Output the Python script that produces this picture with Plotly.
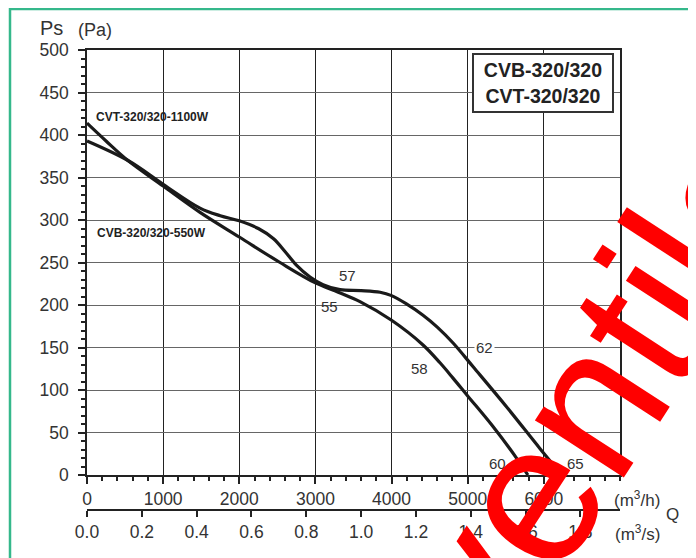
import plotly.graph_objects as go

# ---------------- data ----------------
# CVT-320/320-1100W (starts at ~414 Pa)
q_1100 = [0, 250, 538, 1000, 1484, 2000, 2535, 3000, 3300, 3585, 4000, 4413, 4636, 4807, 5000, 5332, 5648, 5790]
ps_1100 = [414, 393, 370, 340, 309, 280, 250, 226, 215, 204, 182, 153, 132, 114, 93, 57, 19, 0]

# CVB-320/320-550W (starts at ~393 Pa)
q_550 = [0, 538, 1000, 1484, 1750, 2000, 2250, 2450, 2600, 2750, 2929, 3100, 3323, 3600, 3850,
         4000, 4200, 4413, 4600, 4811, 5074, 5512, 5950, 6236]
ps_550 = [393, 370, 342, 314, 305, 299, 290, 278, 263, 247, 233, 224, 218, 217, 215,
          211, 201, 188, 174, 155, 127, 80, 31, 0]

# sound level labels (dB)
db_labels = ["55", "57", "58", "62", "60", "65"]
db_q = [3191, 3415, 4373, 5214, 5385, 6409]
db_ps = [198, 235, 125, 150, 13, 14]

x_ticks_m3h = [0, 1000, 2000, 3000, 4000, 5000, 6000]
x_ticks_m3s = [0.0, 0.2, 0.4, 0.6, 0.8, 1.0, 1.2, 1.4, 1.6, 1.8]
y_ticks = [0, 50, 100, 150, 200, 250, 300, 350, 400, 450, 500]
M3H_PER_M3S = 3600

# ---------------- geometry helpers (reference pixel -> paper) ----------------
OFF = 8                      # page body margin
W, H = 696 - OFF, 558 - OFF
L, R, T, B = 87, 620, 50, 510   # plot frame in reference pixels
def px(x):
    return (x - L) / (R - L)
def py(y):
    return (B - y) / (B - T)

FONT = "Liberation Sans, Arial, sans-serif"
TXT = "#333333"
LINE = "#1a1a1a"

fig = go.Figure()
fig.add_trace(go.Scatter(x=q_1100, y=ps_1100, mode="lines",
                         line=dict(color=LINE, width=3.2, shape="spline", smoothing=1.0),
                         showlegend=False, hoverinfo="skip"))
fig.add_trace(go.Scatter(x=q_550, y=ps_550, mode="lines",
                         line=dict(color=LINE, width=3.2, shape="spline", smoothing=1.0),
                         showlegend=False, hoverinfo="skip"))
# invisible trace to activate the m3/s axis
fig.add_trace(go.Scatter(x=[q / M3H_PER_M3S for q in q_1100], y=ps_1100, xaxis="x2",
                         mode="lines", opacity=0, showlegend=False, hoverinfo="skip"))

def ann(x, y, text, size, color=TXT, **kw):
    d = dict(x=x, y=y, xref="paper", yref="paper", text=text, showarrow=False,
             xanchor="center", yanchor="middle",
             font=dict(family=FONT, size=size, color=color))
    d.update(kw)
    return d

annotations = []
for lab, q, p in zip(db_labels, db_q, db_ps):
    d = dict(x=q, y=p, xref="x", yref="y", text=lab, showarrow=False,
             xanchor="center", yanchor="middle",
             font=dict(family=FONT, size=15, color=TXT))
    if lab == "62":
        d["bgcolor"] = "white"
    annotations.append(d)

annotations += [
    ann(px(543), py(83), "<b>CVB-320/320</b><br><b>CVT-320/320</b>", 19.5, "#222",
        bordercolor="#333", borderwidth=2, borderpad=3, bgcolor="white", width=132, height=50),
    ann(px(152.5), py(117), "<b>CVT-320/320-1100W</b>", 12, "#222"),
    ann(px(151), py(233), "<b>CVB-320/320-550W</b>", 12, "#222"),
    ann(px(51), py(28), "Ps", 20),
    ann(px(94.5), py(30), "(Pa)", 18),
    ann(px(637), py(499), "(m<sup>3</sup>/h)", 17),
    ann(px(672), py(514), "Q", 17),
    ann(px(637), py(533), "(m<sup>3</sup>/s)", 17),
    ann(px(600), py(386), "ventila", 200, "#ff0000", textangle=-57),
]

fig.update_layout(
    width=W, height=H,
    margin=dict(l=L - OFF, r=W - (R - OFF), t=T - OFF, b=H - (B - OFF), pad=0),
    paper_bgcolor="white", plot_bgcolor="white",
    showlegend=False,
    font=dict(family=FONT, size=17, color=TXT),
    xaxis=dict(range=[0, 7000], tickvals=x_ticks_m3h, ticktext=[str(v) for v in x_ticks_m3h],
               showgrid=True, gridcolor="#222", gridwidth=1,
               showline=True, linecolor="#222", linewidth=1.5, mirror=True,
               ticks="outside", ticklen=7, tickcolor="#222", tickwidth=1.5,
               minor=dict(dtick=200, tick0=0, ticks="outside", ticklen=4, tickcolor="#222",
                          showgrid=False),
               zeroline=False, anchor="y",
               tickfont=dict(family=FONT, size=17.5, color=TXT)),
    xaxis2=dict(range=[0, 7000 / M3H_PER_M3S], overlaying="x", anchor="free", position=0,
                side="bottom", tickvals=x_ticks_m3s, ticktext=[f"{v:.1f}" for v in x_ticks_m3s],
                showgrid=False, showline=True, linecolor="#222", linewidth=1.5,
                ticks="outside", ticklen=6, tickcolor="#222", tickwidth=1.5, zeroline=False,
                tickfont=dict(family=FONT, size=17.5, color=TXT)),
    yaxis=dict(range=[0, 500], domain=[py(475), 1], tickvals=y_ticks,
               showgrid=True, gridcolor="#666", gridwidth=1,
               showline=True, linecolor="#222", linewidth=1.5, mirror=True,
               ticks="outside", ticklen=7, tickcolor="#222", tickwidth=1.5,
               ticklabelstandoff=6,
               minor=dict(dtick=10, tick0=0, ticks="outside", ticklen=4, tickcolor="#222",
                          showgrid=False),
               zeroline=False,
               tickfont=dict(family=FONT, size=17.5, color=TXT)),
    annotations=annotations,
    shapes=[dict(type="rect", xref="paper", yref="paper",
                 x0=px(10), y0=py(620), x1=px(760), y1=py(9),
                 line=dict(color="#35b88b", width=2.5), fillcolor="rgba(0,0,0,0)", layer="above")],
)

fig.write_html("out.html")
